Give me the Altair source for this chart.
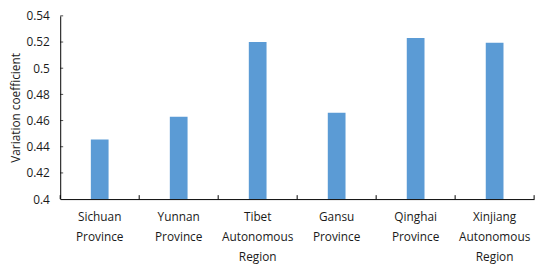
import altair as alt
import pandas as pd

categories = ["Sichuan Province", "Yunnan Province", "Tibet Autonomous Region",
              "Gansu Province", "Qinghai Province", "Xinjiang Autonomous Region"]
values = [0.4455, 0.463, 0.520, 0.466, 0.523, 0.5195]
y_ticks = [0.42, 0.44, 0.46, 0.48, 0.50, 0.52, 0.54]

W, H = 481, 186
FONT = "Open Sans"
TXT = "#1a1a1a"

df = pd.DataFrame({"cat": categories, "val": values})
tick_df = pd.DataFrame({"t": y_ticks})

yscale = alt.Scale(domain=[0.4, 0.54], nice=False, zero=False, clamp=True)

xaxis = alt.Axis(labelAngle=0, ticks=False, domain=True, domainColor="#000",
                 labelExpr="split(datum.label, ' ')", labelLineHeight=20,
                 labelFont=FONT, labelFontSize=12, labelColor=TXT,
                 labelPadding=13, labelBaseline="top", labelOverlap=False)
yaxis = alt.Axis(values=[0.4] + y_ticks, format=".2~f", ticks=False, grid=False,
                 domainColor="#000", labelFont=FONT, labelFontSize=12,
                 labelColor=TXT, labelPadding=11, labelOverlap=False,
                 labelBound=False, labelFlush=False, titleFont=FONT,
                 titleFontSize=12, titleFontWeight="normal", titleColor=TXT,
                 titlePadding=4)

bars = alt.Chart(df).mark_bar(size=18, color="#5B9BD5").encode(
    x=alt.X("cat:N", sort=None, title=None, axis=xaxis),
    y=alt.Y("val:Q", scale=yscale, title="Variation coefficient", axis=yaxis),
)

yt = alt.Chart(tick_df).mark_tick(color="#000", size=3, thickness=1).encode(
    y=alt.Y("t:Q", scale=yscale, title="Variation coefficient", axis=yaxis),
    x=alt.value(1.5)
)

xt = alt.Chart(df).mark_rule(color="#000").encode(
    x=alt.X("cat:N", sort=None, bandPosition=0, title=None, axis=xaxis),
    y=alt.value(H), y2=alt.value(H - 4)
)

xend = alt.Chart(pd.DataFrame({"a": [1]})).mark_rule(color="#000").encode(
    x=alt.value(W), y=alt.value(H), y2=alt.value(H - 4)
)

chart = alt.layer(bars, yt, xt, xend).properties(
    width=W, height=H,
    padding={"left": 53, "top": 6, "right": 8, "bottom": 70},
    autosize=alt.AutoSizeParams(type="none"),
).configure_view(stroke=None).configure_scale(bandPaddingInner=0, bandPaddingOuter=0)

chart.save("out.html", embed_options={"renderer": "svg", "actions": False})
